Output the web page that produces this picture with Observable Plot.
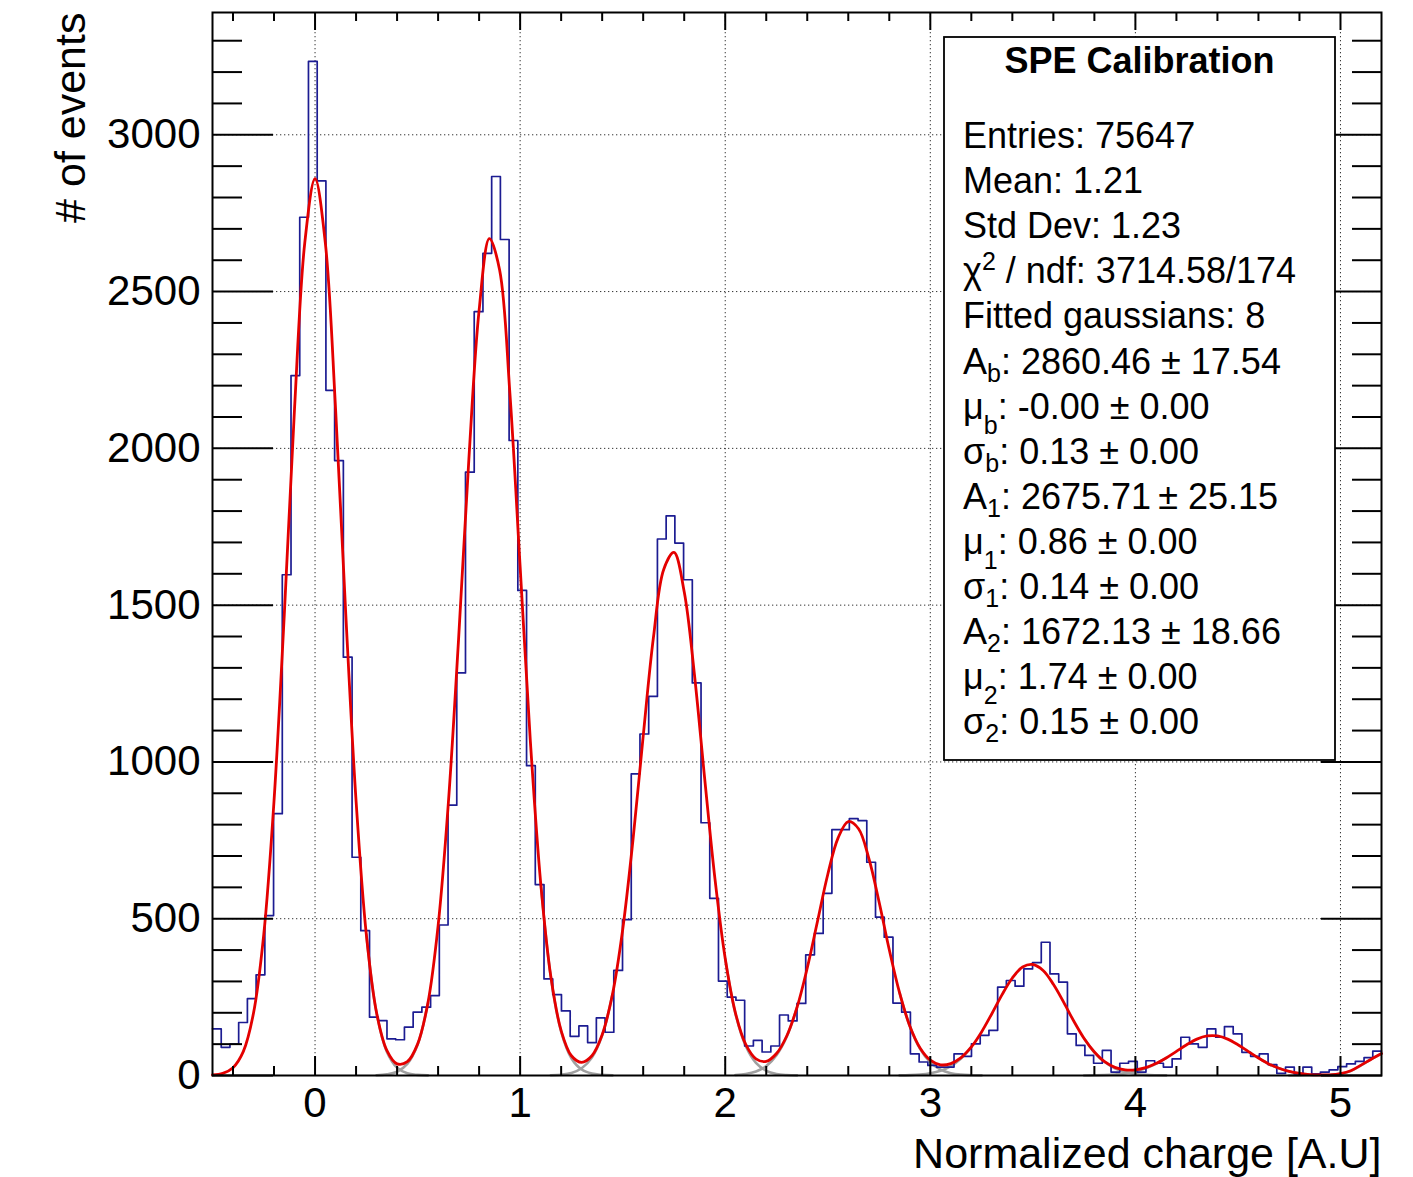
<!DOCTYPE html>
<html>
<head>
<meta charset="utf-8">
<script src="https://cdn.jsdelivr.net/npm/d3@7"></script>
<script src="https://cdn.jsdelivr.net/npm/@observablehq/plot@0.6"></script>
<style>
  html, body { margin: 0; padding: 0; background: #ffffff; }
  #chart { width: 1413px; height: 1177px; }
  svg { display: block; }
</style>
</head>
<body>
<div id="chart"></div>
<script>
// ---------- data ----------
const histLow = -0.5;          // histogram range (A.U)
const histHigh = 5.2;
// bin contents, 134 equal bins from histLow to histHigh
const binCounts = [
  149, 90, 100, 169, 245, 321, 510, 835, 1597, 2232,
  2737, 3234, 2853, 2185, 1961, 1334, 696, 462, 186, 175,
  117, 114, 154, 202, 218, 255, 480, 862, 1284, 1924,
  2436, 2622, 2867, 2666, 2025, 1547, 988, 609, 308, 258,
  206, 125, 158, 105, 184, 138, 335, 497, 962, 1089,
  1209, 1711, 1785, 1698, 1581, 1252, 806, 565, 301, 250,
  240, 94, 112, 75, 94, 193, 174, 230, 385, 453,
  581, 784, 784, 819, 813, 680, 505, 441, 231, 202,
  69, 43, 32, 27, 27, 69, 61, 101, 128, 144,
  282, 303, 285, 340, 360, 425, 324, 298, 133, 96,
  64, 39, 80, 11, 39, 45, 11, 47, 39, 27,
  53, 122, 101, 90, 149, 122, 156, 133, 74, 61,
  69, 35, 7, 27, 5, 27, 5, 11, 18, 28,
  37, 45, 57, 78
];

// fitted total curve, sampled every 0.05 from -0.5 to 5.2
const fitStart = -0.5, fitStep = 0.05;
const fitValues = [
  2, 7, 25, 76, 199, 450, 876, 1469, 2127, 2656,
  2860, 2656, 2127, 1469, 876, 450, 200, 80, 37, 44,
  100, 230, 477, 869, 1393, 1965, 2441, 2669, 2569, 2176,
  1623, 1065, 616, 314, 143, 63, 42, 63, 130, 258,
  465, 750, 1082, 1397, 1614, 1668, 1543, 1278, 946, 627,
  373, 199, 99, 53, 45, 70, 126, 217, 343, 492,
  641, 757, 810, 787, 693, 554, 401, 264, 158, 88,
  49, 34, 38, 57, 91, 139, 197, 258, 311, 346,
  354, 335, 291, 234, 173, 118, 75, 44, 26, 18,
  18, 25, 38, 56, 77, 98, 116, 126, 126, 116,
  98, 77, 56, 37, 23, 13, 7, 3, 2, 2,
  6, 15, 33, 52, 70
];

// tails of the individual gaussian components (grey), visible near the valleys
const componentTails = [
  ["b+",  [0.25, 0.3, 0.35, 0.4, 0.45, 0.5, 0.55], [450, 199, 76, 25, 7, 2, 0.4]],
  ["1-",  [0.3, 0.35, 0.4, 0.45, 0.5, 0.55], [1, 3.5, 12, 37, 98, 230]],
  ["1+",  [1.1, 1.15, 1.2, 1.25, 1.3, 1.35, 1.4, 1.45], [616, 313, 140, 55, 19, 6, 2, 0.5]],
  ["2-",  [1.15, 1.2, 1.25, 1.3, 1.35, 1.4, 1.45], [0.7, 2.6, 8, 23, 57, 128, 258]],
  ["2+",  [2.0, 2.05, 2.1, 2.15, 2.2, 2.25, 2.3, 2.35], [372, 197, 94, 40, 15, 5, 1.5, 0.4]],
  ["3-",  [2.05, 2.1, 2.15, 2.2, 2.25, 2.3, 2.35], [1.8, 5, 13, 30, 65, 124, 217]],
  ["3+",  [2.85, 2.9, 2.95, 3.0, 3.05, 3.1, 3.15, 3.2, 3.25], [264, 157, 85, 42, 19, 7.5, 2.7, 1, 0.3]],
  ["4-",  [2.85, 2.9, 2.95, 3.0, 3.05, 3.1, 3.15, 3.2], [0.4, 1.2, 3, 7, 15, 30, 54, 90]],
  ["4+",  [3.75, 3.8, 3.85, 3.9, 3.95, 4.0, 4.05, 4.1, 4.15], [118, 74, 43, 23, 11, 5, 2, 0.8, 0.3]],
  ["5-",  [3.75, 3.8, 3.85, 3.9, 3.95, 4.0, 4.05, 4.1, 4.15], [0.2, 0.6, 1.4, 3.2, 6.7, 12.8, 22.7, 37, 56]],
  ["5+",  [4.6, 4.65, 4.7, 4.75, 4.8, 4.85, 4.9, 4.95, 5.0], [56, 37, 23, 13, 7, 3.2, 1.4, 0.6, 0.2]],
  ["6-",  [4.75, 4.8, 4.85, 4.9, 4.95, 5.0, 5.05, 5.1, 5.15, 5.2], [0.2, 0.5, 1, 1.5, 2.5, 5.5, 14, 32, 52, 70]]
];

// axes
const xTickValues = [0, 1, 2, 3, 4, 5];
const xTickLabels = ["0", "1", "2", "3", "4", "5"];
const xMinorTicks = [-0.4, -0.2, 0.2, 0.4, 0.6, 0.8, 1.2, 1.4, 1.6, 1.8, 2.2, 2.4, 2.6, 2.8,
                     3.2, 3.4, 3.6, 3.8, 4.2, 4.4, 4.6, 4.8];
const yTickValues = [0, 500, 1000, 1500, 2000, 2500, 3000];
const yTickLabels = ["0", "500", "1000", "1500", "2000", "2500", "3000"];
const yMinorTicks = d3.range(100, 3400, 100).filter(v => v % 500 !== 0);
const yMax = 3390;

const xTitle = "Normalized charge [A.U]";
const yTitle = "# of events";

// stats box
const statsTitle = "SPE Calibration";
const statsLines = [
  [["Entries: 75647", ""]],
  [["Mean: 1.21", ""]],
  [["Std Dev: 1.23", ""]],
  [["\u03c7", ""], ["2", "sup"], [" / ndf: 3714.58/174", ""]],
  [["Fitted gaussians: 8", ""]],
  [["A", ""], ["b", "sub"], [": 2860.46 \u00b1 17.54", ""]],
  [["\u03bc", ""], ["b", "subLow"], [": -0.00 \u00b1 0.00", ""]],
  [["\u03c3", ""], ["b", "sub"], [": 0.13 \u00b1 0.00", ""]],
  [["A", ""], ["1", "sub"], [": 2675.71\u2009\u00b1 25.15", ""]],
  [["\u03bc", ""], ["1", "subLow"], [": 0.86 \u00b1 0.00", ""]],
  [["\u03c3", ""], ["1", "sub"], [": 0.14 \u00b1 0.00", ""]],
  [["A", ""], ["2", "sub"], [": 1672.13 \u00b1 18.66", ""]],
  [["\u03bc", ""], ["2", "subLow"], [": 1.74 \u00b1 0.00", ""]],
  [["\u03c3", ""], ["2", "sub"], [": 0.15 \u00b1 0.00", ""]]
];

// ---------- build tables for the marks ----------
const binWidth = (histHigh - histLow) / binCounts.length;
const histPoints = binCounts.map((v, i) => ({x: histLow + i * binWidth, y: v}));
histPoints.push({x: histHigh, y: binCounts[binCounts.length - 1]});
const fitPoints = fitValues.map((v, i) => ({x: fitStart + i * fitStep, y: v}));
const tailPoints = componentTails.flatMap(([id, xs, ys]) => xs.map((x, i) => ({id, x, y: ys[i]})));

const FONT = "'Liberation Sans', Arial, Helvetica, sans-serif";
const gridStyle = {stroke: "#000", strokeOpacity: 0.8, strokeWidth: 1, strokeDasharray: "1.3,2.7"};

const plot = Plot.plot({
  width: 1413,
  height: 1177,
  marginLeft: 212,
  marginRight: 32,
  marginTop: 12,
  marginBottom: 102,
  style: {fontFamily: FONT, background: "#ffffff", color: "#000"},
  x: {domain: [histLow, histHigh]},
  y: {domain: [0, yMax]},
  marks: [
    Plot.gridX(xTickValues, gridStyle),
    Plot.gridY(yTickValues.filter(v => v > 0), gridStyle),
    Plot.line(tailPoints, {x: "x", y: "y", z: "id", stroke: "#a0a0a0", strokeWidth: 2.6, curve: "catmull-rom"}),
    Plot.line(histPoints, {x: "x", y: "y", curve: "step-after", stroke: "#1c1c92", strokeWidth: 1.7}),
    Plot.line(fitPoints, {x: "x", y: "y", curve: "catmull-rom", stroke: "#e40000", strokeWidth: 2.8}),
    // tick labels
    Plot.axisY(yTickValues, {anchor: "left", tickSize: 0, tickPadding: 12, fontSize: 42, label: null,
      tickFormat: (d) => yTickLabels[yTickValues.indexOf(d)]}),
    Plot.axisX(xTickValues, {anchor: "bottom", tickSize: 0, tickPadding: 12, fontSize: 42, label: null,
      tickFormat: (d) => xTickLabels[xTickValues.indexOf(d)]}),
    // inward ticks (ROOT style), all four sides
    Plot.axisY(yTickValues, {anchor: "left", tickSize: -61, strokeWidth: 2, fill: "none", label: null}),
    Plot.axisY(yMinorTicks, {anchor: "left", tickSize: -30, strokeWidth: 2, fill: "none", label: null}),
    Plot.axisY(yTickValues, {anchor: "right", tickSize: -61, strokeWidth: 2, fill: "none", label: null}),
    Plot.axisY(yMinorTicks, {anchor: "right", tickSize: -30, strokeWidth: 2, fill: "none", label: null}),
    Plot.axisX(xTickValues, {anchor: "bottom", tickSize: -19, strokeWidth: 2, fill: "none", label: null}),
    Plot.axisX(xMinorTicks, {anchor: "bottom", tickSize: -9, strokeWidth: 2, fill: "none", label: null}),
    Plot.axisX(xTickValues, {anchor: "top", tickSize: -17, strokeWidth: 2, fill: "none", label: null}),
    Plot.axisX(xMinorTicks, {anchor: "top", tickSize: -8, strokeWidth: 2, fill: "none", label: null}),
    Plot.frame({stroke: "#000", strokeWidth: 2}),
    // axis titles
    Plot.text([yTitle], {text: d => d, frameAnchor: "top-left", dx: -128, rotate: -90,
      textAnchor: "end", lineAnchor: "bottom", fontSize: 43, fill: "#000"}),
    Plot.text([xTitle], {text: d => d, frameAnchor: "bottom-right", dy: 92,
      textAnchor: "end", lineAnchor: "bottom", fontSize: 43, fill: "#000"})
  ]
});

// ---------- stats box (opaque, drawn over the grid) ----------
const svg = d3.select(plot);
const box = {left: 944, top: 37, right: 1335, bottom: 760};
const g = svg.append("g")
  .attr("font-family", FONT).attr("fill", "#000").attr("text-anchor", "start");
g.append("rect")
  .attr("x", box.left).attr("y", box.top)
  .attr("width", box.right - box.left).attr("height", box.bottom - box.top)
  .attr("fill", "#fff").attr("stroke", "#000").attr("stroke-width", 1.8);
g.append("text")
  .attr("x", (box.left + box.right) / 2).attr("y", box.top + 36)
  .attr("text-anchor", "middle").attr("font-weight", "bold").attr("font-size", 36)
  .text(statsTitle);
const shifts = {"": 0, sub: 8, subLow: 15, sup: -13};
statsLines.forEach((segs, i) => {
  const t = g.append("text")
    .attr("x", box.left + 19).attr("y", box.top + 111 + i * 45.1)
    .attr("text-anchor", "start")
    .attr("font-size", 36);
  let cur = 0;
  segs.forEach(([s, kind]) => {
    const off = shifts[kind];
    const ts = t.append("tspan").text(s);
    if (off !== cur) ts.attr("dy", off - cur);
    if (kind !== "") ts.attr("font-size", 25);
    cur = off;
  });
});

document.getElementById("chart").appendChild(plot);
</script>
</body>
</html>
